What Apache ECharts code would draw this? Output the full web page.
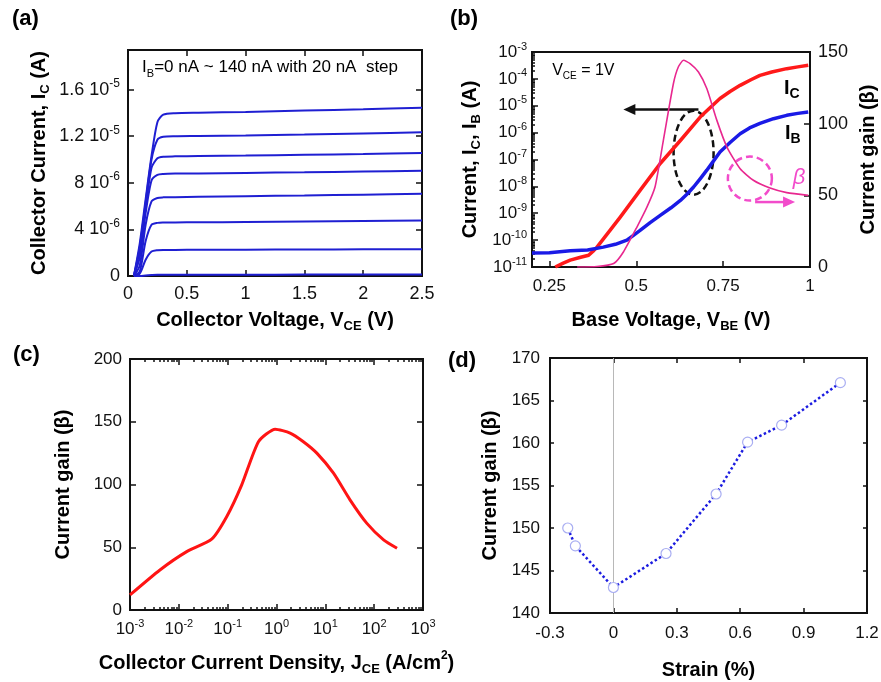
<!DOCTYPE html>
<html>
<head>
<meta charset="utf-8">
<script src="https://cdn.jsdelivr.net/npm/echarts@6/dist/echarts.min.js"></script>
<style>
  html, body { margin: 0; padding: 0; background: #fff; }
  #chart { width: 881px; height: 682px; }
</style>
</head>
<body>
<div id="chart"></div>
<script>
const FONT = '"Liberation Sans", Arial, Helvetica, sans-serif';

// ---------- (a) output characteristics: IC (µA) vs VCE (V), IB = 0..140 nA ----------
const vceA = [0.05, 0.1, 0.15, 0.2, 0.25, 0.3, 0.4, 0.6, 1.0, 1.5, 2.0, 2.5];
const icIb140 = [0, 2.8, 6.6, 10.3, 13.2, 13.85, 13.98, 14.02, 14.08, 14.2, 14.32, 14.45];
const icIb120 = [0, 2.5, 6.3, 10.0, 11.7, 11.95, 12.0, 12.02, 12.07, 12.15, 12.24, 12.33];
const icIb100 = [0, 2.2, 5.9, 9.3, 10.1, 10.24, 10.27, 10.3, 10.34, 10.41, 10.47, 10.55];
const icIb80  = [0, 1.6, 5.4, 8.2, 8.68, 8.76, 8.79, 8.8, 8.85, 8.9, 8.97, 9.03];
const icIb60  = [0, 0.9, 4.4, 6.4, 6.7, 6.75, 6.77, 6.8, 6.85, 6.91, 6.98, 7.05];
const icIb40  = [0, 0.4, 3.0, 4.4, 4.56, 4.59, 4.6, 4.61, 4.64, 4.68, 4.72, 4.76];
const icIb20  = [0, 0.2, 1.4, 2.1, 2.22, 2.24, 2.24, 2.25, 2.26, 2.27, 2.29, 2.30];
const icIb0   = [0, 0, 0.05, 0.08, 0.1, 0.1, 0.1, 0.11, 0.11, 0.12, 0.12, 0.12];
const aCurves = [icIb0, icIb20, icIb40, icIb60, icIb80, icIb100, icIb120, icIb140];
const aCurveNames = ['0 nA', '20 nA', '40 nA', '60 nA', '80 nA', '100 nA', '120 nA', '140 nA'];
const aYTicks = [0, 4, 8, 12, 16];
const aYMant  = ['0', '4', '8', '1.2', '1.6'];
const aYExp   = ['', '-6', '-6', '-5', '-5'];

// ---------- (b) Gummel plot at VCE = 1 V ----------
const icVbe = [0.267, 0.29, 0.31, 0.34, 0.363, 0.375, 0.387, 0.42, 0.454, 0.511, 0.569, 0.627, 0.684, 0.71, 0.741, 0.77, 0.799, 0.83, 0.856, 0.89, 0.933, 0.965, 0.995];
const icAmp = [1.0e-11, 1.4e-11, 1.8e-11, 2.3e-11, 2.75e-11, 3.8e-11, 5.5e-11, 1.95e-10, 7.2e-10, 7.1e-9, 7.1e-8, 5.1e-7, 3.8e-6, 7.9e-6, 1.86e-5, 3.4e-5, 5.75e-5, 9.3e-5, 1.35e-4, 1.8e-4, 2.4e-4, 2.8e-4, 3.2e-4];
const ibVbe = [0.2, 0.25, 0.31, 0.36, 0.405, 0.44, 0.473, 0.49, 0.511, 0.54, 0.569, 0.6, 0.627, 0.645, 0.665, 0.685, 0.703, 0.72, 0.741, 0.77, 0.799, 0.826, 0.856, 0.895, 0.933, 0.965, 0.995];
const ibAmp = [3.3e-11, 3.4e-11, 4.0e-11, 4.3e-11, 5.5e-11, 7.0e-11, 1.0e-10, 1.45e-10, 2.3e-10, 4.5e-10, 8.3e-10, 1.6e-9, 3.0e-9, 5.0e-9, 9.5e-9, 2.0e-8, 4.0e-8, 8.0e-8, 1.9e-7, 4.3e-7, 9.1e-7, 1.5e-6, 2.2e-6, 3.3e-6, 4.4e-6, 5.2e-6, 5.9e-6];
const betaVbe = [0.33, 0.387, 0.435, 0.463, 0.502, 0.531, 0.554, 0.578, 0.607, 0.621, 0.636, 0.655, 0.679, 0.703, 0.732, 0.761, 0.799, 0.837, 0.885, 0.933, 0.995];
const betaGain = [0, 0.3, 2.4, 10.5, 27.9, 41.9, 55.8, 88.4, 128, 139.5, 144.2, 141.9, 136, 124.5, 102.3, 83.7, 68.6, 60.5, 55.1, 51.9, 50.0];
const bXTicks = [0.25, 0.5, 0.75, 1];

// ---------- (c) current gain vs collector current density ----------
const jce = [1e-3, 4.1e-3, 1.45e-2, 4.7e-2, 0.096, 0.194, 0.43, 0.94, 1.9, 3.5, 6.7, 14.7, 32, 71, 156, 294];
const gainJ = [12, 31.9, 46.5, 56.4, 74.5, 99.7, 134.3, 144.1, 141, 134.3, 125, 109, 87.8, 69, 55.9, 49.2];

// ---------- (d) current gain vs strain ----------
const strain = [-0.216, -0.18, 0, 0.249, 0.486, 0.635, 0.796, 1.074];
const gainS = [150.0, 147.9, 143.0, 147.0, 154.0, 160.1, 162.1, 167.1];

// ---------- shared styling helpers ----------
const INK = '#111';
const tickRich = {
  m: { fontSize: 17, fontFamily: FONT, color: INK, lineHeight: 22 },
  p: { fontSize: 11, fontFamily: FONT, color: INK, verticalAlign: 'top' }
};
const tickRichA = {
  m: { fontSize: 18, fontFamily: FONT, color: INK, lineHeight: 24 },
  p: { fontSize: 12, fontFamily: FONT, color: INK, verticalAlign: 'top' }
};
const nameRich = {
  t: { fontSize: 20, fontWeight: 'bold', fontFamily: FONT, color: '#000', lineHeight: 26 },
  s: { fontSize: 13, fontWeight: 'bold', fontFamily: FONT, color: '#000', verticalAlign: 'bottom' },
  p: { fontSize: 12, fontWeight: 'bold', fontFamily: FONT, color: '#000', verticalAlign: 'top' }
};
const nameStyle = { fontFamily: FONT, fontSize: 20, fontWeight: 'bold', color: '#000', rich: nameRich };

function ticks(len, values) {
  const t = { show: true, inside: true, length: len, lineStyle: { color: INK, width: 1.5 } };
  if (values) t.customValues = values;
  return t;
}
function labels(extra) {
  return Object.assign({ show: true, color: INK, fontFamily: FONT, fontSize: 17 }, extra || {});
}
function axis(extra) {
  return Object.assign({
    axisLine: { show: false, onZero: false },
    splitLine: { show: false },
    axisLabel: { show: false },
    axisTick: { show: false }
  }, extra);
}
function minorLogPositions(lo, hi) {
  const out = [];
  for (let e = lo; e < hi; e++) {
    for (let k = 2; k <= 9; k++) out.push(e + Math.log10(k));
  }
  return out;
}
function range(lo, hi) {
  const out = [];
  for (let e = lo; e <= hi; e++) out.push(e);
  return out;
}
const powLabel = v => {
  const e = Math.round(Math.log10(v));
  return '{m|10}{p|' + e + '}';
};
const zip = (xs, ys) => xs.map((x, i) => [x, ys[i]]);

const gridBox = { show: true, borderColor: INK, borderWidth: 2, backgroundColor: 'transparent', containLabel: false, outerBoundsMode: 'none' };

const option = {
  backgroundColor: '#fff',
  animation: false,
  grid: [
    Object.assign({ left: 128, top: 50, width: 294, height: 226 }, gridBox),
    Object.assign({ left: 532, top: 52, width: 278, height: 215 }, gridBox),
    Object.assign({ left: 130, top: 359, width: 293, height: 251 }, gridBox),
    Object.assign({ left: 550, top: 358, width: 317, height: 255 }, gridBox)
  ],
  xAxis: [
    // 0: (a) bottom
    axis({
      gridIndex: 0, type: 'value', position: 'bottom', min: 0, max: 2.5, interval: 0.5,
      axisTick: ticks(6), axisLabel: labels({ margin: 9, fontSize: 18 }),
      name: '{t|Collector Voltage, V}{s|CE}{t| (V)}', nameLocation: 'middle', nameGap: 31, nameTextStyle: nameStyle
    }),
    // 1: (a) top
    axis({ gridIndex: 0, type: 'value', position: 'top', min: 0, max: 2.5, interval: 0.5, axisTick: ticks(6) }),
    // 2: (b) bottom
    axis({
      gridIndex: 1, type: 'value', position: 'bottom', min: 0.2, max: 1,
      axisTick: ticks(6, [0.25, 0.5, 0.75]),
      axisLabel: labels({ margin: 11, customValues: bXTicks }),
      name: '{t|Base Voltage, V}{s|BE}{t| (V)}', nameLocation: 'middle', nameGap: 40, nameTextStyle: nameStyle
    }),
    // 3: (c) bottom, logarithmic data axis
    axis({
      gridIndex: 2, type: 'log', logBase: 10, position: 'bottom', min: 1e-3, max: 1e3,
      axisTick: ticks(6),
      axisLabel: labels({ margin: 8, formatter: powLabel, rich: tickRich }),
      name: '{t|Collector Current Density, J}{s|CE}{t| (A/cm}{p|2}{t|)}', nameLocation: 'middle', nameGap: 40, nameTextStyle: nameStyle
    }),
    // 4: (c) bottom minor ticks (log10 positions)
    axis({ gridIndex: 2, type: 'value', position: 'bottom', min: -3, max: 3, axisTick: ticks(3, minorLogPositions(-3, 3)) }),
    // 5: (c) top major ticks
    axis({ gridIndex: 2, type: 'value', position: 'top', min: -3, max: 3, axisTick: ticks(6, range(-3, 3)) }),
    // 6: (c) top minor ticks
    axis({ gridIndex: 2, type: 'value', position: 'top', min: -3, max: 3, axisTick: ticks(3, minorLogPositions(-3, 3)) }),
    // 7: (d) bottom
    axis({
      gridIndex: 3, type: 'value', position: 'bottom', min: -0.3, max: 1.2, interval: 0.3,
      axisTick: ticks(5), axisLabel: labels({ margin: 12, formatter: v => String(Math.round(v * 10) / 10) }),
      name: '{t|Strain (%)}', nameLocation: 'middle', nameGap: 44, nameTextStyle: nameStyle
    }),
    // 8: (d) top
    axis({ gridIndex: 3, type: 'value', position: 'top', min: -0.3, max: 1.2, interval: 0.3, axisTick: ticks(5) })
  ],
  yAxis: [
    // 0: (a) left
    axis({
      gridIndex: 0, type: 'value', position: 'left', min: 0, max: 19.4,
      axisTick: ticks(6, [4, 8, 12, 16]),
      axisLabel: labels({
        margin: 8, customValues: aYTicks, rich: tickRichA,
        formatter: v => {
          const i = aYTicks.indexOf(Math.round(v));
          if (i <= 0) return '{m|0}';
          return '{m|' + aYMant[i] + ' 10}{p|' + aYExp[i] + '}';
        }
      }),
      name: '{t|Collector Current, I}{s|C}{t| (A)}', nameLocation: 'middle', nameRotate: 90, nameGap: 76, nameTextStyle: nameStyle
    }),
    // 1: (a) right
    axis({ gridIndex: 0, type: 'value', position: 'right', min: 0, max: 19.4, axisTick: ticks(6, [4, 8, 12, 16]) }),
    // 2: (b) left, logarithmic current axis
    axis({
      gridIndex: 1, type: 'log', logBase: 10, position: 'left', min: 1e-11, max: 1e-3,
      axisTick: ticks(6),
      axisLabel: labels({ margin: 5, formatter: powLabel, rich: tickRich }),
      name: '{t|Current, I}{s|C}{t|, I}{s|B}{t| (A)}', nameLocation: 'middle', nameRotate: 90, nameGap: 49, nameTextStyle: nameStyle
    }),
    // 3: (b) left minor ticks (log10 positions)
    axis({ gridIndex: 1, type: 'value', position: 'left', min: -11, max: -3, axisTick: ticks(3, minorLogPositions(-11, -3)) }),
    // 4: (b) right, current gain
    axis({
      gridIndex: 1, type: 'value', position: 'right', min: 0, max: 150, interval: 50,
      axisTick: ticks(6, [50, 100]), axisLabel: labels({ margin: 8, fontSize: 18 }),
      name: '{t|Current gain (β)}', nameLocation: 'middle', nameRotate: 90, nameGap: 45, nameTextStyle: nameStyle
    }),
    // 5: (c) left
    axis({
      gridIndex: 2, type: 'value', position: 'left', min: 0, max: 200, interval: 50,
      axisTick: ticks(6), axisLabel: labels({ margin: 8 }),
      name: '{t|Current gain (β)}', nameLocation: 'middle', nameRotate: 90, nameGap: 54, nameTextStyle: nameStyle
    }),
    // 6: (c) right
    axis({ gridIndex: 2, type: 'value', position: 'right', min: 0, max: 200, interval: 50, axisTick: ticks(6) }),
    // 7: (d) left
    axis({
      gridIndex: 3, type: 'value', position: 'left', min: 140, max: 170, interval: 5,
      axisTick: ticks(4), axisLabel: labels({ margin: 10 }),
      name: '{t|Current gain (β)}', nameLocation: 'middle', nameRotate: 90, nameGap: 47, nameTextStyle: nameStyle
    }),
    // 8: (d) right
    axis({ gridIndex: 3, type: 'value', position: 'right', min: 140, max: 170, interval: 5, axisTick: ticks(4) })
  ],
  series: []
};

// (a) one line per base current
aCurves.forEach((ys, i) => {
  option.series.push({
    name: aCurveNames[i], type: 'line', xAxisIndex: 0, yAxisIndex: 0,
    data: zip(vceA, ys), showSymbol: false, smooth: 0.25,
    lineStyle: { color: '#1f1fd2', width: 2 }
  });
});

// (b) Gummel curves and current gain
option.series.push({
  name: 'IC', type: 'line', xAxisIndex: 2, yAxisIndex: 2, data: zip(icVbe, icAmp),
  showSymbol: false, lineStyle: { color: '#ff1a1a', width: 3.5, join: 'round' }, z: 3
});
option.series.push({
  name: 'IB', type: 'line', xAxisIndex: 2, yAxisIndex: 2, data: zip(ibVbe, ibAmp),
  showSymbol: false, lineStyle: { color: '#1a1ae6', width: 3.5, join: 'round' }, z: 3
});
option.series.push({
  name: 'beta', type: 'line', xAxisIndex: 2, yAxisIndex: 4, data: zip(betaVbe, betaGain),
  showSymbol: false, smooth: 0.2, lineStyle: { color: '#e8288f', width: 1.6 }, z: 4
});

// (c) gain vs current density
option.series.push({
  name: 'gainJ', type: 'line', xAxisIndex: 3, yAxisIndex: 5, data: zip(jce, gainJ),
  showSymbol: false, smooth: 0.2, lineStyle: { color: '#ff1414', width: 3 }
});

// (d) gain vs strain
option.series.push({
  name: 'gainS', type: 'line', xAxisIndex: 7, yAxisIndex: 7, data: zip(strain, gainS),
  symbol: 'circle', symbolSize: 10, showSymbol: true,
  itemStyle: { color: '#ffffff', borderColor: '#a9aef2', borderWidth: 1.2 },
  lineStyle: { color: '#1c1ce0', width: 2.5, type: 'dotted' },
  markLine: {
    silent: true, symbol: 'none', z: 1, animation: false,
    label: { show: false },
    lineStyle: { color: '#b8b8b8', width: 1, type: 'solid' },
    data: [{ xAxis: 0 }]
  },
  z: 3
});

const chart = echarts.init(document.getElementById('chart'), null, { renderer: 'canvas' });
chart.setOption(option);

// ---------- annotations anchored to data coordinates ----------
const SER_A = 7, SER_IC = 8, SER_BETA = 10;
const px = (si, x, y) => chart.convertToPixel({ seriesIndex: si }, [x, y]);

const cLeft = px(SER_IC, 0.679, 7.2e-6);
const cRight = px(SER_IC, 0.463, 7.2e-6);
const ell = px(SER_IC, 0.665, 1.8e-7);
const ring = px(SER_BETA, 0.827, 61.7);
const pa0 = px(SER_BETA, 0.842, 45.3);
const pa1 = px(SER_BETA, 0.957, 45.3);
const labIC = px(SER_IC, 0.925, 4.4e-5);
const labIB = px(SER_IC, 0.928, 9.5e-7);
const labBeta = px(SER_BETA, 0.95, 62);
const labVce = px(SER_IC, 0.258, 2.1e-4);
const labA = px(SER_A, 0.12, 17.9);

const PINK = '#f24ccb';
const labelRich = (color, size) => ({
  t: { fontSize: size, fontFamily: FONT, color: color, lineHeight: size + 6 },
  s: { fontSize: Math.round(size * 0.65), fontFamily: FONT, color: color, verticalAlign: 'bottom' }
});
const boldRich = (color, size) => ({
  t: { fontSize: size, fontWeight: 'bold', fontFamily: FONT, color: color, lineHeight: size + 6 },
  s: { fontSize: Math.round(size * 0.68), fontWeight: 'bold', fontFamily: FONT, color: color, verticalAlign: 'bottom' }
});

const graphics = [
  // panel letters
  { type: 'text', left: 12, top: 8, style: { text: '(a)', font: 'bold 22px ' + FONT, fill: '#000' } },
  { type: 'text', left: 450, top: 8, style: { text: '(b)', font: 'bold 22px ' + FONT, fill: '#000' } },
  { type: 'text', left: 13, top: 344, style: { text: '(c)', font: 'bold 22px ' + FONT, fill: '#000' } },
  { type: 'text', left: 448, top: 350, style: { text: '(d)', font: 'bold 22px ' + FONT, fill: '#000' } },
  // (a) legend note
  { type: 'text', x: labA[0], y: labA[1], style: {
      text: '{t|I}{s|B}{t|=0 nA ~ 140 nA with 20 nA  step}', rich: labelRich('#111', 17),
      verticalAlign: 'middle', align: 'left' } },
  // (b) notes
  { type: 'text', x: labVce[0], y: labVce[1], style: {
      text: '{t|V}{s|CE}{t| = 1V}', rich: labelRich('#222', 16), verticalAlign: 'middle', align: 'left' } },
  { type: 'text', x: labIC[0], y: labIC[1], style: {
      text: '{t|I}{s|C}', rich: boldRich('#ff1a1a', 20), verticalAlign: 'middle', align: 'left' } },
  { type: 'text', x: labIB[0], y: labIB[1], style: {
      text: '{t|I}{s|B}', rich: boldRich('#1a1ae6', 20), verticalAlign: 'middle', align: 'left' } },
  { type: 'text', x: labBeta[0], y: labBeta[1], style: {
      text: 'β', font: 'italic 22px ' + FONT, fill: PINK, verticalAlign: 'middle', align: 'left' } },
  // arrow pointing to the left (current) axis
  { type: 'line', shape: { x1: cLeft[0], y1: cLeft[1], x2: cRight[0] + 10, y2: cRight[1] },
    style: { stroke: '#111', lineWidth: 2.5 } },
  { type: 'polygon', shape: { points: [[cRight[0], cRight[1]], [cRight[0] + 12, cRight[1] - 5.5], [cRight[0] + 12, cRight[1] + 5.5]] },
    style: { fill: '#111' } },
  // dashed ellipse around the current curves
  { type: 'ellipse', shape: { cx: ell[0], cy: ell[1], rx: 20, ry: 42 },
    style: { fill: 'none', stroke: '#111', lineWidth: 2.5, lineDash: [7, 4] } },
  // dashed circle around the gain curve and arrow pointing to the right axis
  { type: 'circle', shape: { cx: ring[0], cy: ring[1], r: 22 },
    style: { fill: 'none', stroke: PINK, lineWidth: 2.5, lineDash: [7, 4] } },
  { type: 'line', shape: { x1: pa0[0], y1: pa0[1], x2: pa1[0] - 10, y2: pa1[1] },
    style: { stroke: PINK, lineWidth: 2.5 } },
  { type: 'polygon', shape: { points: [[pa1[0], pa1[1]], [pa1[0] - 12, pa1[1] - 5.5], [pa1[0] - 12, pa1[1] + 5.5]] },
    style: { fill: PINK } }
];
chart.setOption({ graphic: graphics });
</script>
</body>
</html>
